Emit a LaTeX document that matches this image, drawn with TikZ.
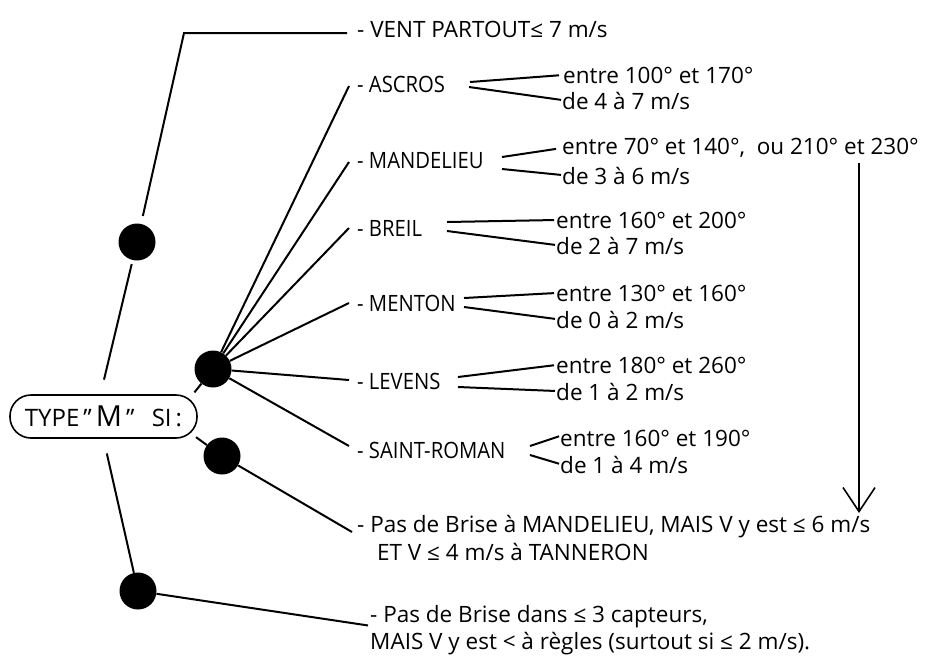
\documentclass[tikz,border=0pt]{standalone}
\usepackage{fontspec}
\usepackage{graphicx}
\setmainfont{Open Sans}
\usetikzlibrary{arrows.meta}
\newcommand{\stn}[1]{\scalebox{0.9}[1]{#1}}
\begin{document}
\begin{tikzpicture}[x=1pt,y=-1pt,
  txt/.style={anchor=west,inner sep=0pt,font=\fontsize{22.5}{24}\selectfont},
  dot/.style={circle,fill=black,minimum size=37pt,inner sep=0pt},
  ln/.style={line width=2pt},
  fk/.style={line width=2pt}]
\useasboundingbox (0,0) rectangle (925,657);
% main box
\node[draw,line width=1.6pt,rounded corners=21pt,minimum width=187pt,minimum height=43pt,inner sep=0pt,
  font=\fontsize{24}{24}\selectfont] (box) at (103.5,416.5)
  {TYPE\,"\,{\fontsize{29}{29}\selectfont M}\,"\;\;\,SI\,:};
% dots
\node[dot] (d1) at (137,242) {};
\node[dot] (d2) at (213,369) {};
\node[dot] (d3) at (222,456) {};
\node[dot] (d4) at (138,591) {};
% labels
\node[txt] (vent) at (357,29) {- VENT PARTOUT≤ 7 m/s};
\node[txt] (ascros) at (357,84) {\stn{- ASCROS}};
\node[txt] (mand) at (357,161) {\stn{- MANDELIEU}};
\node[txt] (breil) at (357,228) {\stn{- BREIL}};
\node[txt] (menton) at (357,303) {\stn{- MENTON}};
\node[txt] (levens) at (357,381) {\stn{- LEVENS}};
\node[txt] (sroman) at (357,450) {\stn{- SAINT-ROMAN}};
\node[txt] (p1a) at (357,527) {- Pas de Brise à MANDELIEU, MAIS V y est ≤ 6 m/s};
\node[txt] (p1b) at (377,552) {ET V ≤ 4 m/s à TANNERON};
\node[txt] (p2a) at (370,617) {- Pas de Brise dans ≤ 3 capteurs,};
\node[txt] (p2b) at (370,644) {MAIS V y est < à règles (surtout si ≤ 2 m/s).};
% sub texts
\node[txt] (a1) at (563,75) {entre 100° et 170°};
\node[txt] (a2) at (562,101) {de 4 à 7 m/s};
\node[txt] (m1) at (562,148) {entre 70° et 140°,\ \ ou 210° et 230°};
\node[txt] (m2) at (562,176) {de 3 à 6 m/s};
\node[txt] (b1) at (556,220) {entre 160° et 200°};
\node[txt] (b2) at (556,246) {de 2 à 7 m/s};
\node[txt] (n1) at (556,293) {entre 130° et 160°};
\node[txt] (n2) at (556,320) {de 0 à 2 m/s};
\node[txt] (l1) at (556,365) {entre 180° et 260°};
\node[txt] (l2) at (556,392) {de 1 à 2 m/s};
\node[txt] (s1) at (560,438) {entre 160° et 190°};
\node[txt] (s2) at (560,465) {de 1 à 4 m/s};
% coordinates
\coordinate (c1) at (184,33);
\coordinate (fa1) at (470,82);  \coordinate (fa2) at (469,87);
\coordinate (fm1) at (502,157); \coordinate (fm2) at (502,169);
\coordinate (fb1) at (447,222); \coordinate (fb2) at (447,231);
\coordinate (fn1) at (464,298); \coordinate (fn2) at (464,307);
\coordinate (fl1) at (458,377); \coordinate (fl2) at (458,387);
\coordinate (fs1) at (530,446); \coordinate (fs2) at (530,455);
\coordinate (arTop) at (859,163);
\coordinate (arTip) at (859,513);
% tree connectors
\draw[ln,shorten >=8pt] ([xshift=-10pt,yshift=-4pt]vent.west) -- (c1) -- (d1);
\draw[ln,shorten <=4pt,shorten >=15pt] (d1) -- ([xshift=-3pt]box.north);
\draw[ln,shorten >=1pt] (d2) -- ([xshift=-4pt,yshift=1pt]box.north east);
\draw[ln,shorten >=4pt] (d3) -- ([xshift=-5pt,yshift=4pt]box.south east);
\draw[ln,shorten <=15pt] (box.south) -- (d4);
\foreach \s/\dy in {ascros/-2,mand/-1,breil/0,menton/0,levens/1,sroman/4}
  \draw[ln] (d2) -- ([xshift=-8pt,yshift=\dy pt]\s.west);
\draw[ln] (d3) -- ([xshift=-5pt,yshift=-5pt]p1a.west);
\draw[ln] (d4) -- ([xshift=-2pt,yshift=3pt]p2a.south west);
% forks
\draw[fk,shorten >=4pt] (fa1) -- (a1.west);
\draw[fk,shorten >=1pt] (fa2) -- ([yshift=1pt]a2.west);
\draw[fk,shorten >=6pt] (fm1) -- (m1.west);
\draw[fk,shorten >=1pt] (fm2) -- ([yshift=1pt]m2.west);
\draw[fk,shorten >=2pt] (fb1) -- (b1.west);
\draw[fk,shorten >=1pt] (fb2) -- ([yshift=1pt]b2.west);
\draw[fk,shorten >=2pt] (fn1) -- (n1.west);
\draw[fk,shorten >=1pt] (fn2) -- ([yshift=1pt]n2.west);
\draw[fk,shorten >=2pt] (fl1) -- (l1.west);
\draw[fk,shorten >=1pt] (fl2) -- ([yshift=1pt]l2.west);
\draw[fk,shorten >=1pt] (fs1) -- ([yshift=2pt]s1.west);
\draw[fk,shorten >=1pt] (fs2) -- ([yshift=1pt]s2.west);
% arrow
\draw[line width=1.6pt,-{Straight Barb[length=24pt,width=32pt,line width=1.6pt]}] (arTop) -- (arTip);
\end{tikzpicture}
\end{document}
